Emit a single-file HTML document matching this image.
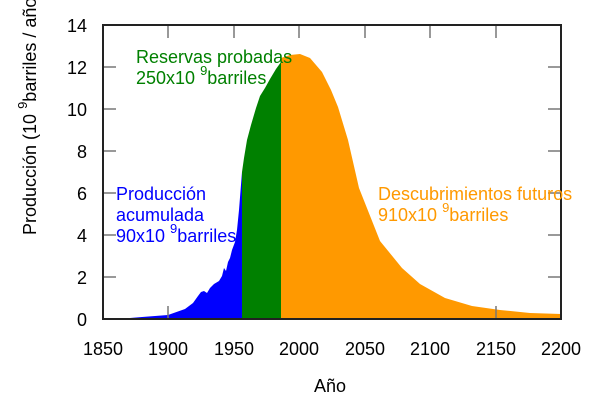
<!DOCTYPE html>
<html><head><meta charset="utf-8"><style>html,body{margin:0;padding:0;background:#fff}</style></head>
<body>
<svg width="600" height="400" xmlns="http://www.w3.org/2000/svg" font-family="Liberation Sans, sans-serif">
<rect width="600" height="400" fill="#fff"/>
<polygon fill="#0000ff" points="103,319 130,318 142,317 168,315 185,309 193,303 198,296 201,292 204,291 207,293 210,288 214,284 219,281 222,276 224,268 226,271 228,262 230,258 232,250 235,242 237,230 239,210 242,172 242,319"/>
<polygon fill="#008000" points="242,319 242,172 244,158 247,140 251,125 256,108 260,96 265,88 270,79 276,69 281,62 281,319"/>
<polygon fill="#ff9900" points="281,319 281,58 290,55 300,54 310,58 322,72 331,90 338,107 348,140 359,188 380,241 402,268 420,284 445,298 472,306 500,310 530,313 561,314 561,319"/>
<g stroke="#777" stroke-width="1.5">
<line x1="103" y1="277" x2="116" y2="277"/><line x1="103" y1="235" x2="116" y2="235"/><line x1="103" y1="193" x2="116" y2="193"/><line x1="103" y1="151" x2="116" y2="151"/><line x1="103" y1="109" x2="116" y2="109"/><line x1="103" y1="67" x2="116" y2="67"/>
<line x1="548" y1="277" x2="561" y2="277"/><line x1="548" y1="235" x2="561" y2="235"/><line x1="548" y1="193" x2="561" y2="193"/><line x1="548" y1="151" x2="561" y2="151"/><line x1="548" y1="109" x2="561" y2="109"/><line x1="548" y1="67" x2="561" y2="67"/>
<line x1="168" y1="25" x2="168" y2="38"/><line x1="234" y1="25" x2="234" y2="38"/><line x1="299" y1="25" x2="299" y2="38"/><line x1="365" y1="25" x2="365" y2="38"/><line x1="430" y1="25" x2="430" y2="38"/><line x1="496" y1="25" x2="496" y2="38"/>
<line x1="168" y1="319" x2="168" y2="306"/><line x1="496" y1="319" x2="496" y2="306"/>
</g>
<rect x="103" y="25" width="458" height="294" fill="none" stroke="#222" stroke-width="2"/>
<g font-size="18" fill="#000" text-anchor="end">
<text x="87" y="326">0</text><text x="87" y="284">2</text><text x="87" y="242">4</text><text x="87" y="200">6</text><text x="87" y="158">8</text><text x="87" y="116">10</text><text x="87" y="74">12</text><text x="87" y="32">14</text>
</g>
<g font-size="18" fill="#000" text-anchor="middle">
<text x="103" y="355">1850</text><text x="168" y="355">1900</text><text x="234" y="355">1950</text><text x="299" y="355">2000</text><text x="365" y="355">2050</text><text x="430" y="355">2100</text><text x="496" y="355">2150</text><text x="561" y="355">2200</text>
<text x="330" y="392">Año</text>
</g>
<text transform="translate(36,235) rotate(-90)" font-size="18" fill="#000">Producción (10 <tspan dy="-9" font-size="13">9</tspan><tspan dy="9">barriles / año)</tspan></text>
<g font-size="18" fill="#008000">
<text x="136" y="63">Reservas probadas</text>
<text x="136" y="84">250x10 <tspan dy="-9" font-size="13">9</tspan><tspan dy="9">barriles</tspan></text>
</g>
<g font-size="18" fill="#0000ff">
<text x="116" y="200">Producción</text>
<text x="116" y="221">acumulada</text>
<text x="116" y="242">90x10 <tspan dy="-9" font-size="13">9</tspan><tspan dy="9">barriles</tspan></text>
</g>
<g font-size="18" fill="#ff9900">
<text x="378" y="200">Descubrimientos futuros</text>
<text x="378" y="221">910x10 <tspan dy="-9" font-size="13">9</tspan><tspan dy="9">barriles</tspan></text>
</g>
</svg>
</body></html>
